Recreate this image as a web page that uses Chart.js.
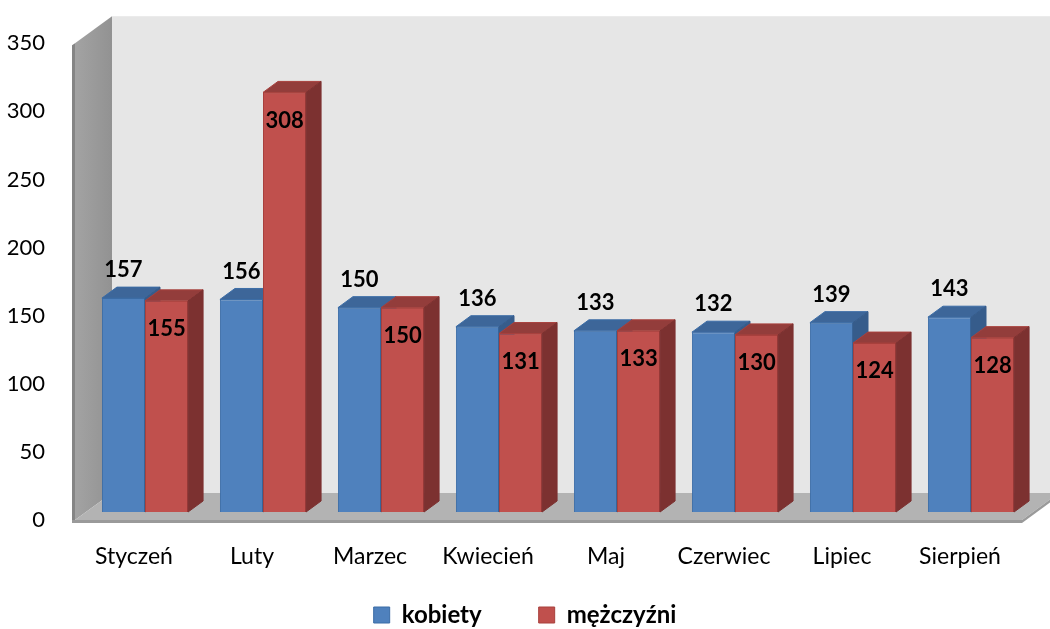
<!DOCTYPE html>
<html>
<head>
<meta charset="utf-8">
<script src="https://cdn.jsdelivr.net/npm/chart.js@4/dist/chart.umd.min.js"></script>
<style>
  html, body { margin: 0; padding: 0; background: #fff; }
</style>
</head>
<body>
<canvas id="myChart" width="1050" height="629"></canvas>
<script>
const months = ["Styczeń", "Luty", "Marzec", "Kwiecień", "Maj", "Czerwiec", "Lipiec", "Sierpień"];
const kobiety = [157, 156, 150, 136, 133, 132, 139, 143];
const mezczyzni = [155, 308, 150, 131, 133, 130, 124, 128];
const yTicks = [0, 50, 100, 150, 200, 250, 300, 350];

// fake 3d: wall depth, bar shift into the middle of the depth, bar depth
const WALL = { dx: 37, dy: -27 };
const SHIFT = { dx: 11, dy: -8 };
const DEPTH = { dx: 15, dy: -11 };

const colors = {
	blue: { front: "#4F81BD", top: "#3D6699", side: "#365C8B", border: "#3B6CA6" },
	red: { front: "#C0504D", top: "#933D3B", side: "#7C3130", border: "#A8403D" },
};

function poly(ctx, pts, fill, stroke) {
	ctx.beginPath();
	ctx.moveTo(pts[0][0], pts[0][1]);
	for (let i = 1; i < pts.length; i++) ctx.lineTo(pts[i][0], pts[i][1]);
	ctx.closePath();
	ctx.fillStyle = fill;
	ctx.fill();
	if (stroke) {
		ctx.strokeStyle = stroke;
		ctx.lineWidth = 1;
		ctx.stroke();
	}
}

function drawFaces(ctx, bar, c) {
	const l = bar.x - bar.width / 2;
	const r = bar.x + bar.width / 2;
	const t = bar.y;
	const b = bar.base;
	poly(ctx, [[l, t], [l + DEPTH.dx, t + DEPTH.dy], [r + DEPTH.dx, t + DEPTH.dy], [r, t]], c.top, c.border);
	poly(ctx, [[r, t], [r + DEPTH.dx, t + DEPTH.dy], [r + DEPTH.dx, b + DEPTH.dy], [r, b]], c.side, c.side);
}

const walls3d = {
	id: "walls3d",
	beforeDraw(chart) {
		const { ctx, chartArea: a } = chart;
		ctx.save();
		// back wall
		ctx.fillStyle = "#E6E6E6";
		ctx.fillRect(a.left + WALL.dx, a.top + WALL.dy, chart.width - a.left - WALL.dx, a.bottom - a.top);
		// left wall
		const g = ctx.createLinearGradient(a.left, 0, a.left + WALL.dx, 0);
		g.addColorStop(0, "#A3A3A3");
		g.addColorStop(1, "#929292");
		poly(ctx, [[a.left, a.top], [a.left + WALL.dx, a.top + WALL.dy], [a.left + WALL.dx, a.bottom + WALL.dy], [a.left, a.bottom]], g);
		poly(ctx, [[a.left - 3, a.top + 2], [a.left, a.top], [a.left, a.bottom + 3], [a.left - 3, a.bottom + 3]], "#858585");
		// floor
		const fr = a.right + 3;
		poly(ctx, [[a.left, a.bottom], [a.left + WALL.dx, a.bottom + WALL.dy], [fr + WALL.dx, a.bottom + WALL.dy], [fr, a.bottom]], "#B3B3B3");
		poly(ctx, [[a.left - 3, a.bottom], [fr, a.bottom], [fr, a.bottom + 3], [a.left - 3, a.bottom + 3]], "#9A9A9A");
		poly(ctx, [[fr, a.bottom], [fr + WALL.dx, a.bottom + WALL.dy], [fr + WALL.dx, a.bottom + WALL.dy + 3], [fr, a.bottom + 3]], "#9A9A9A");
		ctx.restore();
	},
	beforeDatasetsDraw(chart) {
		chart.ctx.save();
		chart.ctx.translate(SHIFT.dx, SHIFT.dy);
	},
	afterDatasetsDraw(chart) {
		const ctx = chart.ctx;
		const blueBars = chart.getDatasetMeta(0).data;
		const redBars = chart.getDatasetMeta(1).data;
		for (let i = 0; i < blueBars.length; i++) {
			drawFaces(ctx, blueBars[i], colors.blue);
			redBars[i].draw(ctx);
			drawFaces(ctx, redBars[i], colors.red);
		}
		ctx.fillStyle = "#000";
		ctx.font = "bold 22px Lato";
		ctx.textAlign = "center";
		ctx.textBaseline = "middle";
		blueBars.forEach((bar, i) => ctx.fillText(kobiety[i], bar.x, bar.y - 28));
		redBars.forEach((bar, i) => ctx.fillText(mezczyzni[i], bar.x, bar.y + 28));
		ctx.restore();
	},
};

Chart.defaults.font.family = "Lato";
Chart.defaults.color = "#000";

new Chart(document.getElementById("myChart"), {
	type: "bar",
	data: {
		labels: months,
		datasets: [
			{
				label: "kobiety",
				data: kobiety,
				backgroundColor: colors.blue.front,
				borderColor: colors.blue.border,
				borderWidth: 1,
			},
			{
				label: "mężczyźni",
				data: mezczyzni,
				backgroundColor: colors.red.front,
				borderColor: colors.red.border,
				borderWidth: 1,
			},
		],
	},
	options: {
		responsive: false,
		animation: false,
		layout: {
			padding: { top: 38, right: 0, bottom: -8, left: 0 },
		},
		datasets: {
			bar: {
				categoryPercentage: 0.73,
				barPercentage: 1,
			},
		},
		scales: {
			x: {
				grid: { display: false, drawTicks: false },
				border: { display: false },
				ticks: { font: { size: 23 }, padding: 23 },
				afterFit: scale => { scale.height = 50; },
			},
			y: {
				min: 0,
				max: 350,
				grid: { display: false, drawTicks: false },
				border: { display: false },
				ticks: { font: { size: 22 }, padding: 30 },
				afterBuildTicks: scale => { scale.ticks = yTicks.map(v => ({ value: v })); },
				afterFit: scale => { scale.width = 75; },
			},
			// empty right axis, only keeps room for the floor/wall depth
			yRight: {
				position: "right",
				grid: { display: false, drawTicks: false },
				border: { display: false },
				ticks: { display: false },
				afterFit: scale => { scale.width = 31; },
			},
		},
		plugins: {
			legend: {
				position: "bottom",
				labels: {
					boxWidth: 16,
					boxHeight: 16,
					padding: 33,
					font: { size: 24, weight: "bold" },
					// wider gap between the two entries (padding also sets the row offset)
					generateLabels: chart => {
						const items = Chart.defaults.plugins.legend.labels.generateLabels(chart);
						items[0].text += "\u2002\u2002";
						return items;
					},
				},
			},
			tooltip: { enabled: false },
		},
	},
	plugins: [walls3d],
});
</script>
</body>
</html>
